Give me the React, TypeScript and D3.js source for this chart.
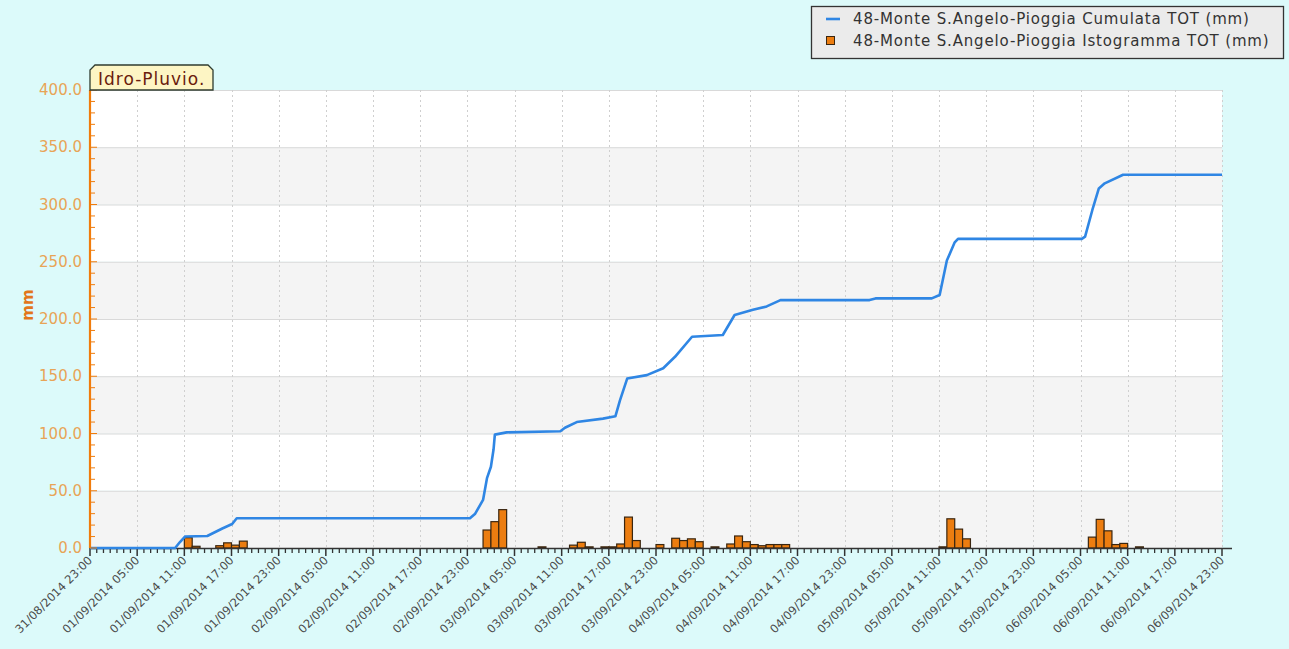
import React, { useEffect, useRef } from "react";
import * as d3 from "d3";

const W = 1289;
const H = 649;
const plot = { left: 90, right: 1222, top: 90, bottom: 548 };

const startTime = "2014-08-31 23:00";
const endTime = "2014-09-06 23:00";

// cumulative rain (mm)
const cumTimes = [
  "2014-08-31 23:00", "2014-09-01 09:50", "2014-09-01 10:25", "2014-09-01 11:05",
  "2014-09-01 13:55", "2014-09-01 15:50", "2014-09-01 17:05", "2014-09-01 17:40",
  "2014-09-02 23:20", "2014-09-03 00:00", "2014-09-03 01:00", "2014-09-03 01:30",
  "2014-09-03 02:00", "2014-09-03 02:20", "2014-09-03 02:30", "2014-09-03 04:00",
  "2014-09-03 10:50", "2014-09-03 11:25", "2014-09-03 12:55", "2014-09-03 16:15",
  "2014-09-03 17:50", "2014-09-03 18:25", "2014-09-03 19:20", "2014-09-03 21:50",
  "2014-09-03 23:55", "2014-09-04 01:25", "2014-09-04 03:35", "2014-09-04 07:30",
  "2014-09-04 09:00", "2014-09-04 11:20", "2014-09-04 13:05", "2014-09-04 14:50",
  "2014-09-05 02:10", "2014-09-05 02:55", "2014-09-05 10:05", "2014-09-05 11:05",
  "2014-09-05 12:00", "2014-09-05 13:00", "2014-09-05 13:25", "2014-09-06 05:10",
  "2014-09-06 05:35", "2014-09-06 06:30", "2014-09-06 07:20", "2014-09-06 08:05",
  "2014-09-06 10:25", "2014-09-06 23:00",
];
const cumValues = [
  0, 0, 5, 10,
  10.5, 17, 21, 26,
  26, 30, 42, 61,
  71, 86, 99, 101,
  102, 105, 110, 113,
  115, 129, 148, 151,
  157, 167, 184.5, 186,
  203.5, 208, 211, 216.5,
  216.5, 218, 218, 221,
  251, 267, 270, 270,
  272, 295, 314, 318.5,
  326, 326,
];

// hourly histogram (mm)
const barTimes = [
  "2014-09-01 11:00", "2014-09-01 12:00", "2014-09-01 15:00", "2014-09-01 16:00",
  "2014-09-01 17:00", "2014-09-01 18:00", "2014-09-03 01:00", "2014-09-03 02:00",
  "2014-09-03 03:00", "2014-09-03 08:00", "2014-09-03 12:00", "2014-09-03 13:00",
  "2014-09-03 14:00", "2014-09-03 16:00", "2014-09-03 17:00", "2014-09-03 18:00",
  "2014-09-03 19:00", "2014-09-03 20:00", "2014-09-03 23:00", "2014-09-04 01:00",
  "2014-09-04 02:00", "2014-09-04 03:00", "2014-09-04 04:00", "2014-09-04 06:00",
  "2014-09-04 08:00", "2014-09-04 09:00", "2014-09-04 10:00", "2014-09-04 11:00",
  "2014-09-04 12:00", "2014-09-04 13:00", "2014-09-04 14:00", "2014-09-04 15:00",
  "2014-09-05 11:00", "2014-09-05 12:00", "2014-09-05 13:00", "2014-09-05 14:00",
  "2014-09-06 06:00", "2014-09-06 07:00", "2014-09-06 08:00", "2014-09-06 09:00",
  "2014-09-06 10:00", "2014-09-06 12:00",
];
const barValues = [
  9, 1.5, 2, 4.5,
  2.5, 6, 15.7, 23,
  33.5, 1, 2.5, 5,
  1, 1, 1, 3.5,
  27, 6.5, 3, 8.5,
  6.5, 8, 5.5, 1,
  3.5, 10.5, 5.5, 3,
  2, 3, 3, 3,
  1, 25.5, 16.5, 8,
  9.5, 25, 15, 3,
  4, 1,
];

const yTicks = [0, 50, 100, 150, 200, 250, 300, 350, 400];
const legendLabels = [
  "48-Monte S.Angelo-Pioggia Cumulata TOT (mm)",
  "48-Monte S.Angelo-Pioggia Istogramma TOT (mm)",
];

const font = "'DejaVu Sans', Verdana, sans-serif";

export default function App() {
  const ref = useRef<SVGSVGElement>(null);

  useEffect(() => {
    document.body.style.margin = "0";
    const parse = d3.utcParse("%Y-%m-%d %H:%M");
    const fmt = d3.utcFormat("%d/%m/%Y %H:%M");
    const t0 = parse(startTime)!;
    const t1 = parse(endTime)!;

    const svg = d3.select(ref.current);
    svg.selectAll("*").remove();

    svg.append("rect").attr("width", W).attr("height", H).attr("fill", "#dcfafa");

    const x = d3.scaleUtc().domain([t0, t1]).range([plot.left, plot.right]);
    const y = d3.scaleLinear().domain([0, 400]).range([plot.bottom, plot.top]);

    // alternating bands
    svg
      .selectAll(".band")
      .data(yTicks.slice(0, -1))
      .join("rect")
      .attr("x", plot.left)
      .attr("width", plot.right - plot.left)
      .attr("y", (d) => y(d + 50))
      .attr("height", (d) => y(d) - y(d + 50))
      .attr("fill", (d, i) => (i % 2 === 0 ? "#f4f4f4" : "#ffffff"));

    // horizontal grid
    svg
      .selectAll(".hgrid")
      .data(yTicks.slice(1))
      .join("line")
      .attr("x1", plot.left)
      .attr("x2", plot.right)
      .attr("y1", (d) => y(d) + 0.5)
      .attr("y2", (d) => y(d) + 0.5)
      .attr("stroke", "#d9d9d9");

    const majors = d3.utcHour.range(t0, d3.utcHour.offset(t1, 1), 6);

    // vertical dotted grid
    svg
      .selectAll(".vgrid")
      .data(majors.slice(1))
      .join("line")
      .attr("x1", (d) => Math.round(x(d)) + 0.5)
      .attr("x2", (d) => Math.round(x(d)) + 0.5)
      .attr("y1", plot.top)
      .attr("y2", plot.bottom)
      .attr("stroke", "#cfcfcf")
      .attr("stroke-dasharray", "2,3");

    // histogram bars
    const bars = barTimes.map((t, i) => ({ t: parse(t)!, v: barValues[i] }));
    svg
      .selectAll(".bar")
      .data(bars)
      .join("rect")
      .attr("x", (d) => x(d.t))
      .attr("width", (d) => x(d3.utcHour.offset(d.t, 1)) - x(d.t))
      .attr("y", (d) => y(d.v))
      .attr("height", (d) => y(0) - y(d.v))
      .attr("fill", "#ec7d10")
      .attr("stroke", "#3a2610")
      .attr("stroke-width", 1.2);

    // x axis line + ticks
    svg
      .append("line")
      .attr("x1", plot.left)
      .attr("x2", plot.right + 10)
      .attr("y1", plot.bottom + 0.5)
      .attr("y2", plot.bottom + 0.5)
      .attr("stroke", "#333")
      .attr("stroke-width", 1.6);

    const minors: number[] = [];
    for (let i = 0; i < majors.length - 1; i++) {
      const a = x(majors[i]);
      const b = x(majors[i + 1]);
      d3.range(1, 7).forEach((k) => minors.push(a + ((b - a) * k) / 7));
    }
    svg
      .selectAll(".minor")
      .data(minors)
      .join("line")
      .attr("x1", (d) => d)
      .attr("x2", (d) => d)
      .attr("y1", plot.bottom)
      .attr("y2", plot.bottom + 5)
      .attr("stroke", "#333")
      .attr("stroke-width", 1.3);
    svg
      .selectAll(".major")
      .data(majors)
      .join("line")
      .attr("x1", (d) => x(d))
      .attr("x2", (d) => x(d))
      .attr("y1", plot.bottom)
      .attr("y2", plot.bottom + 8)
      .attr("stroke", "#333")
      .attr("stroke-width", 1.5);

    svg
      .selectAll(".xlab")
      .data(majors)
      .join("text")
      .attr("transform", (d) => `translate(${x(d) + 3},${plot.bottom + 13}) rotate(-45)`)
      .attr("text-anchor", "end")
      .attr("font-family", font)
      .attr("font-size", 11.5)
      .attr("fill", "#4a4a4a")
      .text((d) => fmt(d));

    // cumulative line
    const pts = cumTimes.map((t, i) => [parse(t)!, cumValues[i]] as [Date, number]);
    const line = d3
      .line<[Date, number]>()
      .x((d) => x(d[0]))
      .y((d) => y(d[1]));
    svg
      .append("path")
      .datum(pts)
      .attr("d", line)
      .attr("fill", "none")
      .attr("stroke", "#2f86e4")
      .attr("stroke-width", 2.6)
      .attr("stroke-linejoin", "round");

    // y axis
    svg
      .append("line")
      .attr("x1", plot.left)
      .attr("x2", plot.left)
      .attr("y1", plot.top)
      .attr("y2", plot.bottom)
      .attr("stroke", "#f07c0c")
      .attr("stroke-width", 2.2);
    svg
      .selectAll(".ytick")
      .data(d3.range(0, 401, 10))
      .join("line")
      .attr("x1", plot.left)
      .attr("x2", (d) => plot.left + (d % 50 === 0 ? 7 : 5))
      .attr("y1", (d) => y(d))
      .attr("y2", (d) => y(d))
      .attr("stroke", "#f07c0c")
      .attr("stroke-width", 1);
    svg
      .selectAll(".ylab")
      .data(yTicks)
      .join("text")
      .attr("x", plot.left - 8)
      .attr("y", (d) => y(d) + 5)
      .attr("text-anchor", "end")
      .attr("font-family", font)
      .attr("font-size", 15)
      .attr("fill", "#e8a456")
      .text((d) => d3.format(".1f")(d));

    svg
      .append("text")
      .attr("transform", `translate(33,${(plot.top + plot.bottom) / 2 - 14}) rotate(-90)`)
      .attr("text-anchor", "middle")
      .attr("font-family", font)
      .attr("font-size", 15)
      .attr("font-weight", "bold")
      .attr("fill", "#e2761a")
      .text("mm");

    // title tab
    svg
      .append("path")
      .attr("d", `M${plot.left},${plot.top} V70 L95,65 H208 L213,70 V${plot.top} Z`)
      .attr("fill", "#fdf5c4")
      .attr("stroke", "#2f3b2f")
      .attr("stroke-width", 1.3);
    svg
      .append("text")
      .attr("x", 98)
      .attr("y", 85)
      .attr("font-family", font)
      .attr("font-size", 17)
      .attr("letter-spacing", 1)
      .attr("fill", "#6a1c0c")
      .text("Idro-Pluvio.");

    // legend
    const lg = svg.append("g");
    lg.append("rect")
      .attr("x", 811.5)
      .attr("y", 6.5)
      .attr("width", 472)
      .attr("height", 52)
      .attr("fill", "#ebebeb")
      .attr("stroke", "#333")
      .attr("stroke-width", 1.3);
    lg.append("line")
      .attr("x1", 826)
      .attr("x2", 840)
      .attr("y1", 19)
      .attr("y2", 19)
      .attr("stroke", "#2f86e4")
      .attr("stroke-width", 2.6);
    lg.append("rect")
      .attr("x", 826.5)
      .attr("y", 36.5)
      .attr("width", 8)
      .attr("height", 8)
      .attr("fill", "#ec7d10")
      .attr("stroke", "#3a2610");
    lg.selectAll(".ltxt")
      .data(legendLabels)
      .join("text")
      .attr("x", 853)
      .attr("y", (d, i) => 24 + i * 22)
      .attr("font-family", font)
      .attr("font-size", 15)
      .attr("letter-spacing", 0.85)
      .attr("fill", "#333")
      .text((d) => d);
  }, []);

  return <svg ref={ref} width={W} height={H} style={{ display: "block" }} />;
}
